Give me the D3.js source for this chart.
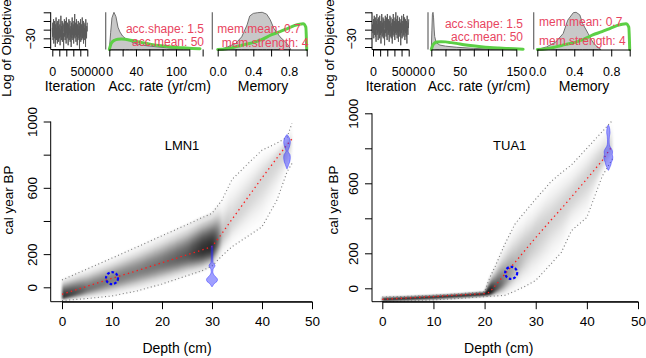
<!DOCTYPE html>
<html>
<head>
<meta charset="utf-8">
<script src="https://cdn.jsdelivr.net/npm/d3@7"></script>
<style>
body { margin: 0; background: #fff; }
</style>
</head>
<body>
<script>
// ---------------- data ----------------
var iterTicks = [0, 10000, 20000, 30000, 40000, 50000];
var iterLabels = [0, 50000];
var objTicks = [-15, -20, -25, -30, -35];
var objLabels = [-30];

// LMN1 – log objective trace (thinned)
var lmnTrace = [
  -24,-29,-21,-31,-26,-19,-33,-23,-28,-20,-30,-25,-35,-22,-27,-18,-31,-24,-29,-21,
  -33,-26,-20,-28,-23,-32,-19,-27,-24,-30,-22,-34,-25,-29,-17,-26,-31,-23,-28,-20,
  -32,-25,-21,-30,-27,-36,-22,-26,-19,-29,-24,-31,-20,-28,-25,-33,-18,-27,-23,-30,
  -21,-29,-26,-34,-22,-28,-19,-31,-24,-27,-20,-32,-25,-29,-23,-35,-21,-26,-30,-18,
  -28,-24,-31,-22,-27,-33,-20,-29,-25,-16,-30,-23,-28,-21,-32,-26,-19,-29,-24,-34,
  -22,-27,-31,-20,-28,-25,-30,-23,-36,-21,-26,-29,-19,-32,-24,-27,-22,-31,-25,-18,
  -30,-23,-28,-20,-33,-26,-21,-29,-24,-31,-22,-27,-35,-19,-28,-25,-30,-23,-26,-21
];
// TUA1 – log objective trace (thinned)
var tuaTrace = [
  -22,-27,-19,-30,-24,-17,-28,-21,-26,-18,-29,-23,-32,-20,-25,-16,-28,-22,-27,-19,
  -31,-24,-18,-26,-21,-30,-17,-25,-22,-28,-20,-33,-23,-27,-16,-24,-29,-21,-26,-18,
  -30,-23,-19,-28,-25,-34,-20,-24,-17,-27,-22,-29,-18,-26,-23,-31,-16,-25,-21,-28,
  -19,-27,-24,-32,-20,-26,-17,-29,-22,-25,-18,-30,-23,-27,-21,-33,-19,-24,-28,-16,
  -26,-22,-29,-20,-25,-31,-18,-27,-23,-15,-28,-21,-26,-19,-30,-24,-17,-27,-22,-32,
  -20,-25,-29,-18,-26,-23,-28,-21,-34,-19,-24,-27,-17,-30,-22,-25,-20,-29,-23,-16,
  -28,-21,-26,-18,-31,-24,-19,-27,-22,-29,-20,-25,-33,-17,-26,-23,-28,-21,-24,-19
];

// accumulation rate (yr/cm): posterior and prior (relative density)
var lmnAccTicks = [0, 20, 40, 60, 80, 100, 120, 140];
var lmnAccLabels = [0, 40, 100];
var lmnAccX = [0, 2, 4, 7, 10, 13, 16, 20, 24, 30, 36, 48, 61, 86, 111, 136];
var lmnAccPost = [0, 0.45, 0.85, 1.0, 0.88, 0.6, 0.47, 0.36, 0.3, 0.24, 0.18, 0.12, 0.09, 0.045, 0.018, 0];
var lmnAccPriorX = [0, 3, 8, 13, 18, 24, 30, 36, 48, 61, 74, 86, 98, 111, 124, 136];
var lmnAccPrior = [0, 0.17, 0.25, 0.275, 0.28, 0.275, 0.255, 0.235, 0.19, 0.145, 0.11, 0.085, 0.06, 0.045, 0.03, 0.02];

var tuaAccTicks = [0, 25, 50, 75, 100, 125, 150];
var tuaAccLabels = [0, 50, 150];
var tuaAccX = [0, 1, 2, 3, 4, 5, 6, 8, 10, 15, 25, 45, 75, 105, 140];
var tuaAccPost = [0, 0.5, 0.95, 1, 0.85, 0.55, 0.35, 0.22, 0.17, 0.12, 0.09, 0.06, 0.03, 0.012, 0];
var tuaAccPriorX = [0, 4, 10, 17, 25, 35, 44, 58, 73, 88, 103, 118, 132, 147, 162];
var tuaAccPrior = [0, 0.15, 0.2, 0.21, 0.205, 0.185, 0.165, 0.13, 0.1, 0.075, 0.055, 0.04, 0.028, 0.017, 0.01];

// memory: posterior and prior
var memTicks = [0, 0.2, 0.4, 0.6, 0.8, 1.0];
var memLabels = [0, 0.4, 0.8];
var lmnMemX = [0, 0.08, 0.2, 0.27, 0.33, 0.36, 0.4, 0.45, 0.5, 0.55, 0.59, 0.63, 0.7, 0.78, 0.82];
var lmnMemPost = [0, 0.04, 0.16, 0.34, 0.66, 0.9, 0.97, 0.99, 1, 0.95, 0.8, 0.57, 0.34, 0.16, 0];
var tuaMemX = [0, 0.1, 0.2, 0.28, 0.33, 0.39, 0.42, 0.46, 0.49, 0.55, 0.6, 0.66, 0.69];
var tuaMemPost = [0, 0.07, 0.2, 0.43, 0.79, 0.99, 1, 0.93, 0.7, 0.43, 0.2, 0.04, 0];
var memPriorX = [0, 0.1, 0.2, 0.3, 0.42, 0.5, 0.6, 0.7, 0.79, 0.86, 0.92, 0.96, 0.99, 1.0];
var memPrior = [0, 0.02, 0.07, 0.13, 0.2, 0.27, 0.39, 0.48, 0.57, 0.64, 0.68, 0.69, 0.6, 0];

// age-depth model, LMN1
var depthTicks = [0, 10, 20, 30, 40, 50];
var ageTicks = [0, 200, 400, 600, 800, 1000];
var ageLabels = [0, 200, 600, 1000];

var lmnDepth = [0, 5, 10, 15, 20, 25, 28, 30, 32, 34, 37, 40, 43, 45, 46];
var lmnMean  = [-42, 6, 54, 100, 148, 196, 225, 245, 325, 410, 535, 660, 780, 860, 895];
var lmnMax   = [44, 110, 176, 243, 311, 378, 420, 446, 526, 650, 740, 827, 870, 905, 988];
var lmnMin   = [-80, -68, -52, -22, 20, 70, 100, 128, 190, 245, 305, 365, 526, 696, 747];
var lmnMode  = [-62, -12, 42, 92, 142, 192, 224, 242, 310, 395, 520, 650, 770, 850, 880];
var lmnDark  = [0.8, 0.55, 0.5, 0.5, 0.55, 0.65, 0.8, 0.82, 0.25, 0.17, 0.15, 0.15, 0.17, 0.2, 0.1];

// calibrated dates, LMN1
var lmnDate1Depth = 30;
var lmnDate1Age = [250, 230, 200, 170, 150, 140, 130, 120, 110, 95, 80, 65, 55, 45, 35, 25, 15, 5];
var lmnDate1Dens = [0.12, 0.15, 0.15, 0.15, 0.2, 0.4, 0.55, 0.4, 0.2, 0.15, 0.25, 0.6, 0.9, 1.0, 0.9, 0.5, 0.25, 0.08];
var lmnDate2Depth = 45;
var lmnDate2Age = [920, 905, 890, 875, 860, 845, 830, 822, 812, 800, 785, 770, 755, 740, 725, 715];
var lmnDate2Dens = [0.06, 0.36, 0.54, 0.6, 0.54, 0.42, 0.24, 0.18, 0.3, 0.54, 0.6, 0.57, 0.48, 0.3, 0.15, 0.03];
var lmnPbDepth = 10, lmnPbAge = 55;

// age-depth model, TUA1
var tuaDepth = [0, 5, 10, 15, 20, 21, 22, 24, 26, 28, 30, 33, 35, 37, 40, 43, 45];
var tuaMean  = [-63, -55, -47, -38, -30, -22, 12, 82, 150, 220, 290, 390, 455, 522, 625, 730, 815];
var tuaMax   = [-50, -46, -40, -32, -20, 60, 120, 255, 370, 440, 510, 610, 660, 705, 800, 895, 960];
var tuaMin   = [-76, -72, -66, -58, -48, -46, -44, -40, -15, 12, 45, 140, 205, 330, 405, 640, 740];
var tuaMode  = [-64, -56, -48, -39, -31, -28, -8, 45, 120, 215, 290, 390, 455, 522, 625, 730, 815];
var tuaDark  = [0.95, 0.95, 0.95, 0.95, 0.95, 0.9, 0.7, 0.45, 0.3, 0.24, 0.2, 0.18, 0.18, 0.18, 0.18, 0.2, 0.14];

var tuaDate1Depth = 44.2;
var tuaDate1Age = [930, 910, 890, 870, 850, 830, 810, 795, 780, 765, 750, 735, 720, 705, 690, 675];
var tuaDate1Dens = [0.1, 0.25, 0.3, 0.2, 0.15, 0.15, 0.3, 0.6, 0.75, 0.7, 0.8, 0.75, 0.55, 0.45, 0.25, 0.05];
var tuaPbDepth = 25.2, tuaPbAge = 88;

// ---------------- drawing ----------------
var FONT = '"Liberation Sans", Arial, Helvetica, sans-serif';
var svg = d3.select("body").append("svg")
    .attr("width", 646).attr("height", 358)
    .attr("font-family", FONT)
    .style("display", "block");
var defs = svg.append("defs");
defs.append("filter").attr("id", "soft")
    .attr("x", "-5%").attr("y", "-5%").attr("width", "110%").attr("height", "110%")
    .append("feGaussianBlur").attr("stdDeviation", 1.1);

function labelled(labels, fmt) {
    return function(d) { return labels.indexOf(d) >= 0 ? fmt(d) : ""; };
}

function xAxis(g, scale, y, ticks, labels, fmt, size, off, len) {
    var a = g.append("g").attr("transform", "translate(0," + y + ")")
        .call(d3.axisBottom(scale).tickValues(ticks).tickSize(len).tickSizeOuter(0)
            .tickFormat(labelled(labels, fmt)));
    a.attr("font-size", size).attr("font-family", FONT);
    a.select(".domain").attr("stroke", "#000");
    a.selectAll(".tick line").attr("stroke", "#000");
    a.selectAll(".tick text").attr("y", off).attr("dy", "0.35em").attr("fill", "#000");
}

function yAxis(g, scale, x, ticks, labels, fmt, size, off, len) {
    var a = g.append("g").attr("transform", "translate(" + x + ",0)")
        .call(d3.axisLeft(scale).tickValues(ticks).tickSize(len).tickSizeOuter(0)
            .tickFormat(labelled(labels, fmt)));
    a.attr("font-size", size).attr("font-family", FONT);
    a.select(".domain").remove();
    a.selectAll(".tick line").attr("stroke", "#000");
    a.selectAll(".tick text").attr("x", 0).attr("dy", "0.35em").attr("fill", "#000")
        .attr("text-anchor", "middle")
        .attr("transform", "translate(" + (-off) + ",0) rotate(-90)");
}

function label(g, txt, x, y, size, opts) {
    opts = opts || {};
    var t = g.append("text").attr("x", x).attr("y", y).attr("dy", "0.35em")
        .attr("font-size", size).attr("text-anchor", opts.anchor || "middle")
        .attr("fill", opts.color || "#000").text(txt);
    if (opts.rotate) t.attr("transform", "rotate(-90," + x + "," + y + ")");
    return t;
}

var minus = function(d) { return String(d).replace("-", "\u2212"); };
var plain = function(d) { return String(d); };
var oneDec = d3.format(".1f");

// ----- top row: trace, acc rate, memory -----
var densY = d3.scaleLinear().domain([0, 1]).range([49.5, 12.3]);
var objY = d3.scaleLinear().domain([-15, -35]).range([12.3, 47]);

function drawTop(c) {
    var g = svg.append("g");
    // trace
    var tx = d3.scaleLinear().domain([0, 50000]).range(c.iterRange);
    var n = c.trace.length;
    g.append("path").datum(c.trace)
        .attr("d", d3.line().x(function(d, i) { return tx(i * 50000 / (n - 1)); })
            .y(function(d) { return objY(d); }))
        .attr("fill", "none").attr("stroke", "#5a5a5a").attr("stroke-width", 1);
    g.append("path").attr("d", "M" + c.iterAxis + "," + objY(-15) + "V49.5H" + tx(50000))
        .attr("fill", "none").attr("stroke", "#000");
    yAxis(g, objY, c.iterAxis, objTicks, objLabels, minus, 12.5, 20, 7);
    xAxis(g, tx, 49.5, iterTicks, iterLabels, plain, 12.5, 22, 7);

    // densities
    [c.acc, c.mem].forEach(function(p) {
        g.append("line").attr("x1", p.edge).attr("x2", p.edge)
            .attr("y1", densY(1)).attr("y2", densY(0))
            .attr("stroke", "#666").attr("stroke-width", 1.2);
        g.append("path").datum(p.post)
            .attr("d", d3.area().x(function(d, i) { return p.scale(p.postX[i]); })
                .y0(densY(0)).y1(function(d) { return densY(d); }))
            .attr("fill", "#c8c8c8").attr("stroke", "#707070").attr("stroke-width", 1);
        g.append("path").datum(p.prior)
            .attr("d", d3.line().x(function(d, i) { return p.scale(p.priorX[i]); })
                .y(function(d) { return densY(d); }).curve(d3.curveMonotoneX))
            .attr("fill", "none").attr("stroke", "#5ccf45").attr("stroke-width", 3)
            .attr("stroke-linejoin", "round").attr("stroke-linecap", "round");
        xAxis(g, p.scale, 49.5, p.ticks, p.labels, p.fmt, 12.5, 22, 7);
        p.texts.forEach(function(t) {
            label(g, t[0], t[1], t[2], 12, { anchor: t[3], color: "#e8455f" });
        });
    });

    label(g, "Log of Objective", c.logX, 48, 13.5, { rotate: true });
    label(g, "Iteration", c.iterTitle, 86, 14);
    label(g, "Acc. rate (yr/cm)", c.accTitle, 86, 14);
    label(g, "Memory", c.memTitle, 86, 14);
}

drawTop({
    trace: lmnTrace, iterRange: [52.3, 87.3], iterAxis: 50.7,
    logX: 6, iterTitle: 70, accTitle: 159.5, memTitle: 263,
    acc: { scale: d3.scaleLinear().domain([0, 120]).range([109.3, 189.3]), edge: 105.7,
        postX: lmnAccX, post: lmnAccPost, priorX: lmnAccPriorX, prior: lmnAccPrior,
        ticks: lmnAccTicks, labels: lmnAccLabels, fmt: plain,
        texts: [["acc.shape: 1.5", 204, 28.3, "end"], ["acc.mean: 50", 204, 41.3, "end"]] },
    mem: { scale: d3.scaleLinear().domain([0, 1]).range([217.7, 306.7]), edge: 212.3,
        postX: lmnMemX, post: lmnMemPost, priorX: memPriorX, prior: memPrior,
        ticks: memTicks, labels: memLabels, fmt: oneDec,
        texts: [["mem.mean: 0.7", 217.3, 28.3, "start"], ["mem.strength: 4", 221.7, 42.3, "start"]] }
});

drawTop({
    trace: tuaTrace, iterRange: [373, 408.7], iterAxis: 372,
    logX: 329, iterTitle: 391, accTitle: 479, memTitle: 584,
    acc: { scale: d3.scaleLinear().domain([0, 150]).range([431.3, 516.3]), edge: 428,
        postX: tuaAccX, post: tuaAccPost, priorX: tuaAccPriorX, prior: tuaAccPrior,
        ticks: tuaAccTicks, labels: tuaAccLabels, fmt: plain,
        texts: [["acc.shape: 1.5", 523, 23.3, "end"], ["acc.mean: 50", 523, 36.3, "end"]] },
    mem: { scale: d3.scaleLinear().domain([0, 1]).range([537.3, 629.7]), edge: 533.7,
        postX: tuaMemX, post: tuaMemPost, priorX: memPriorX, prior: memPrior,
        ticks: memTicks, labels: memLabels, fmt: oneDec,
        texts: [["mem.mean: 0.7", 539, 21.7, "start"], ["mem.strength: 4", 539, 40.7, "start"]] }
});

// ----- age-depth panels -----
function drawCore(c) {
    var g = svg.append("g");
    var x = d3.scaleLinear().domain([0, 50]).range(c.xRange);
    var y = d3.scaleLinear().domain([0, 1000]).range(c.yRange);
    var bottom = 301.7;

    var clipId = "clip-" + c.name;
    defs.append("clipPath").attr("id", clipId).append("rect")
        .attr("x", c.axisX).attr("y", y(1000) - 10)
        .attr("width", x(50) - c.axisX).attr("height", bottom - y(1000) + 10);

    // grey-scale cloud: nested bands around the mode, darkness varies with depth
    var N = 14;
    var gradId = "grad-" + c.name;
    var d0 = c.depth[0], d1 = c.depth[c.depth.length - 1];
    var grad = defs.append("linearGradient").attr("id", gradId)
        .attr("gradientUnits", "userSpaceOnUse")
        .attr("x1", x(d0)).attr("x2", x(d1)).attr("y1", 0).attr("y2", 0);
    c.depth.forEach(function(d, i) {
        grad.append("stop").attr("offset", (d - d0) / (d1 - d0))
            .attr("stop-color", "#000")
            .attr("stop-opacity", 1 - Math.pow(1 - c.dark[i], 1 / N));
    });
    var cloud = g.append("g").attr("clip-path", "url(#" + clipId + ")")
        .append("g").attr("filter", "url(#soft)");
    d3.range(1, N + 1).forEach(function(k) {
        var s = Math.sqrt(Math.log(N / (k - 0.5)) / 3.2);
        var band = d3.area()
            .x(function(d, i) { return x(c.depth[i]); })
            .y0(function(d, i) { return y(c.mode[i] - (c.mode[i] - c.min[i]) * s); })
            .y1(function(d, i) { return y(c.mode[i] + (c.max[i] - c.mode[i]) * s); });
        cloud.append("path").datum(c.depth).attr("d", band)
            .attr("fill", "url(#" + gradId + ")").attr("stroke", "none");
    });

    var lineOf = function(arr) {
        return d3.line().x(function(d, i) { return x(c.depth[i]); })
            .y(function(d) { return y(d); })(arr);
    };
    [c.min, c.max].forEach(function(arr) {
        g.append("path").attr("d", lineOf(arr)).attr("fill", "none")
            .attr("stroke", "#777").attr("stroke-width", 1.1).attr("stroke-dasharray", "1,2.6");
    });
    g.append("path").attr("d", lineOf(c.mean)).attr("fill", "none")
        .attr("stroke", "#ff1a1a").attr("stroke-width", 1.3).attr("stroke-dasharray", "1.4,3.2");

    // calibrated dates
    var halfW = d3.scaleLinear().domain([0, 1]).range([0, 1.1]);
    c.dates.forEach(function(dt) {
        g.append("path").datum(dt.age)
            .attr("d", d3.area().y(function(d) { return y(d); })
                .x0(function(d, i) { return x(dt.depth - halfW(dt.dens[i])); })
                .x1(function(d, i) { return x(dt.depth + halfW(dt.dens[i])); })
                .curve(d3.curveMonotoneY))
            .attr("fill", "#2a2aff").attr("fill-opacity", 0.45)
            .attr("stroke", "#2a2aff").attr("stroke-opacity", 0.45).attr("stroke-width", 1);
    });
    g.append("circle").attr("cx", x(c.pb[0])).attr("cy", y(c.pb[1])).attr("r", 6)
        .attr("fill", "none").attr("stroke", "#0000ff").attr("stroke-width", 2.2)
        .attr("stroke-dasharray", "2.6,1.9");

    // frame + axes
    g.append("path").attr("d", "M" + c.axisX + "," + y(1000) + "V" + bottom + "H" + x(50))
        .attr("fill", "none").attr("stroke", "#000");
    xAxis(g, x, bottom, depthTicks, depthTicks, plain, 13.5, 20, 7.5);
    yAxis(g, y, c.axisX, ageTicks, ageLabels, plain, 13.5, 18.5, 7);

    label(g, c.name, c.nameX, 145.7, 13);
    label(g, "Depth (cm)", c.depthTitle, 348, 14);
    label(g, "cal year BP", c.ageTitleX, 200, 13.5, { rotate: true });
}

drawCore({
    name: "LMN1", xRange: [62, 312], yRange: [287.3, 121.5], axisX: 50.7,
    nameX: 182, depthTitle: 177, ageTitleX: 8,
    depth: lmnDepth, mean: lmnMean, min: lmnMin, max: lmnMax, mode: lmnMode, dark: lmnDark,
    dates: [{ depth: lmnDate1Depth, age: lmnDate1Age, dens: lmnDate1Dens },
            { depth: lmnDate2Depth, age: lmnDate2Age, dens: lmnDate2Dens }],
    pb: [lmnPbDepth, lmnPbAge]
});

drawCore({
    name: "TUA1", xRange: [382.3, 638], yRange: [288.3, 113.3], axisX: 372,
    nameX: 509.7, depthTitle: 498.7, ageTitleX: 333,
    depth: tuaDepth, mean: tuaMean, min: tuaMin, max: tuaMax, mode: tuaMode, dark: tuaDark,
    dates: [{ depth: tuaDate1Depth, age: tuaDate1Age, dens: tuaDate1Dens }],
    pb: [tuaPbDepth, tuaPbAge]
});
</script>
</body>
</html>
